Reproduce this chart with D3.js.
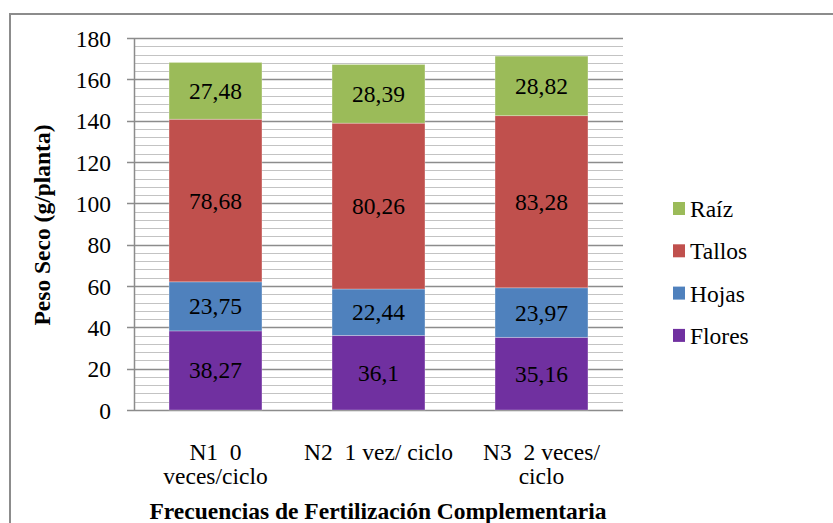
<!DOCTYPE html>
<html><head><meta charset="utf-8">
<script src="https://cdn.jsdelivr.net/npm/d3@7"></script>
<style>body{margin:0;background:#fff}svg{display:block}text{font-family:"Liberation Serif","Times New Roman",serif}</style>
</head><body>
<svg id="c" width="833" height="523"></svg>
<script>
const categories = [["N1  0","veces/ciclo"],["N2  1 vez/ ciclo"],["N3  2 veces/","ciclo"]];
const seriesNames = ["Flores","Hojas","Tallos","Raíz"];
const flores = [38.27, 36.1, 35.16];
const hojas = [23.75, 22.44, 23.97];
const tallos = [78.68, 80.26, 83.28];
const raiz = [27.48, 28.39, 28.82];
const colors = ["#7030A0","#4F81BD","#C0504D","#9BBB59"];
const yTicks = [0,20,40,60,80,100,120,140,160,180];
const FS = 23.5;

const svg = d3.select("#c");
svg.append("rect").attr("x",10).attr("y",14).attr("width",840).attr("height",540)
  .attr("fill","none").attr("stroke","#8c8c8c").attr("stroke-width",2);

const L=134,R=623,T=38,B=410;
const x = d3.scaleBand().domain([0,1,2]).range([L,R]).paddingInner(0.43).paddingOuter(0.215);
const y = d3.scaleLinear().domain([0,180]).range([B,T]);

// minor grid
const minor = d3.range(0,181,4).filter(v=>v%20!==0);
svg.append("g").selectAll("line").data(minor).join("line")
  .attr("x1",L).attr("x2",R).attr("y1",d=>Math.round(y(d))+0.5).attr("y2",d=>Math.round(y(d))+0.5)
  .attr("stroke","#c3c3c3").attr("stroke-width",1.2);
// major grid
svg.append("g").selectAll("line").data(yTicks).join("line")
  .attr("x1",L-7).attr("x2",R).attr("y1",d=>Math.round(y(d))+0.5).attr("y2",d=>Math.round(y(d))+0.5)
  .attr("stroke","#8c8c8c").attr("stroke-width",1.3);
svg.append("line").attr("x1",L+0.5).attr("x2",L+0.5).attr("y1",T).attr("y2",B)
  .attr("stroke","#8c8c8c").attr("stroke-width",1.5);

// y axis labels
const yAxis = d3.axisLeft(y).tickValues(yTicks).tickSize(0).tickPadding(0);
const ga = svg.append("g").attr("transform",`translate(${L-23},0)`).call(yAxis);
ga.select(".domain").remove();
ga.selectAll("text").attr("font-size",FS).attr("fill","#000").attr("dy","0.34em")
  .attr("font-family","'Liberation Serif',serif");

// stacks
const data = [0,1,2].map(i=>({i, Flores:flores[i], Hojas:hojas[i], Tallos:tallos[i], "Raíz":raiz[i]}));
const stack = d3.stack().keys(seriesNames)(data);
const fmt = v => String(v).replace(".",",");
stack.forEach((s,si)=>{
  const g = svg.append("g");
  g.selectAll("rect").data(s).join("rect")
    .attr("x",d=>x(d.data.i)).attr("width",x.bandwidth())
    .attr("y",d=>y(d[1])).attr("height",d=>y(d[0])-y(d[1]))
    .attr("fill",colors[si]).attr("stroke","rgba(255,255,255,0.35)").attr("stroke-width",0.8);
  g.selectAll("text").data(s).join("text")
    .attr("x",d=>x(d.data.i)+x.bandwidth()/2).attr("y",d=>(y(d[0])+y(d[1]))/2+8)
    .attr("text-anchor","middle").attr("font-size",FS).attr("fill","#000")
    .text(d=>fmt(d.data[s.key]));
});

// x labels
categories.forEach((lines,i)=>{
  const t = svg.append("text").attr("text-anchor","middle").attr("font-size",FS).attr("fill","#000")
    .attr("xml:space","preserve");
  lines.forEach((ln,j)=>t.append("tspan").attr("x",x(i)+x.bandwidth()/2).attr("y",460+j*24).text(ln));
});

svg.append("text").attr("x",378).attr("y",519).attr("text-anchor","middle")
  .attr("font-size",FS).attr("font-weight","bold").text("Frecuencias de Fertilización Complementaria");
svg.append("text").attr("transform","translate(50,225) rotate(-90)").attr("text-anchor","middle")
  .attr("font-size",FS).attr("font-weight","bold").text("Peso Seco (g/planta)");

// legend
const legendOrder = [3,2,1,0];
legendOrder.forEach((si,k)=>{
  const yy = 208.5 + k*42.3;
  svg.append("rect").attr("x",673).attr("y",yy-6.5).attr("width",12).attr("height",13).attr("fill",colors[si]);
  svg.append("text").attr("x",690).attr("y",yy+8.5).attr("font-size",FS).text(seriesNames[si]);
});
</script>
</body></html>
